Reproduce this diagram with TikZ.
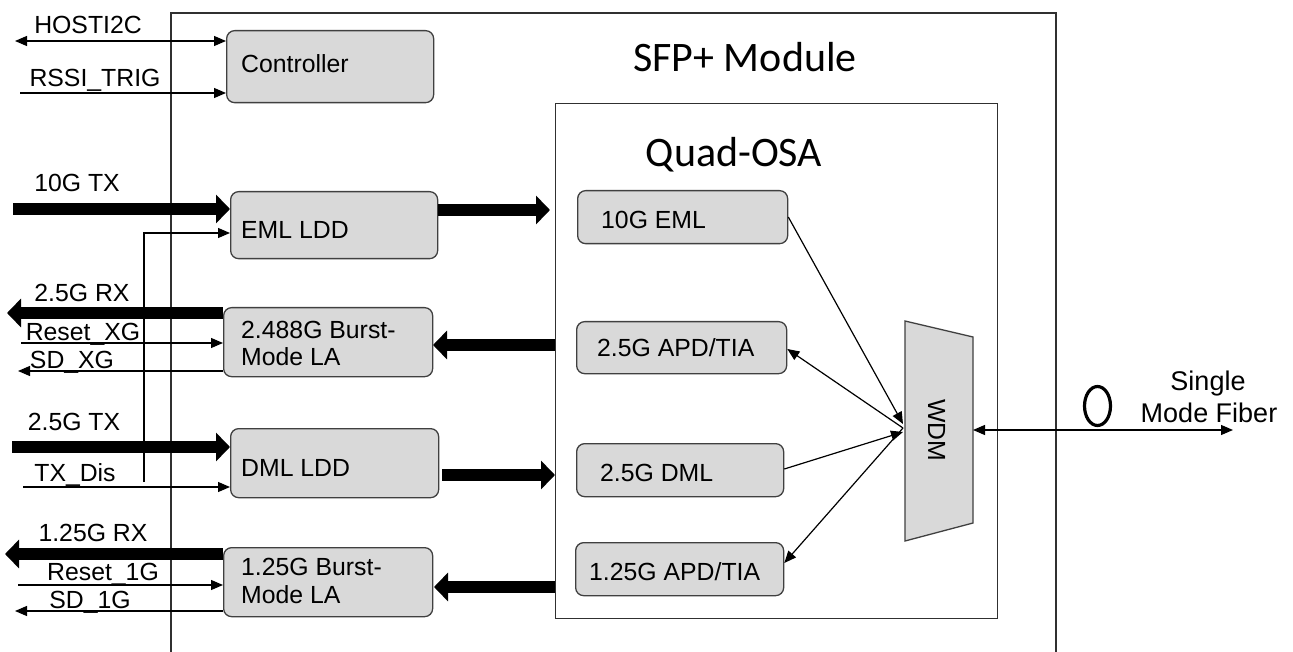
\documentclass[tikz,border=0pt]{standalone}
\usepackage{fontspec}
\setmainfont{Liberation Sans}
\newfontfamily\titlefont{Carlito}
\usetikzlibrary{arrows.meta}
\definecolor{boxfill}{HTML}{D9D9D9}
\definecolor{boxline}{HTML}{404040}
\definecolor{frame}{HTML}{303030}
\begin{document}
\begin{tikzpicture}[x=1pt,y=-1pt,
  box/.style={draw=boxline, fill=boxfill, rounded corners=8pt, line width=1.3pt, anchor=north west, inner sep=0pt},
  lbl/.style={font=\fontsize{24.8}{29}\selectfont, inner sep=0pt, text height=17.7pt, text depth=0pt},
  ttl/.style={font=\titlefont\fontsize{42}{50}\selectfont, inner sep=0pt, text height=27pt, text depth=0pt},
  fib/.style={font=\fontsize{27}{31}\selectfont, inner sep=0pt, text height=19.3pt, text depth=0pt},
  sig/.style={line width=1.2pt, -{Triangle[length=12pt,width=10pt]}},
  sigboth/.style={line width=1.2pt, {Triangle[length=12pt,width=10pt]}-{Triangle[length=12pt,width=10pt]}},
  bus/.style={line width=12pt, -{Triangle[length=14pt,width=28pt]}},
]
\useasboundingbox (0,0) rectangle (1293,652);
\fill[white] (0,0) rectangle (1293,652);

% SFP+ module outline
\draw[frame, line width=1.3pt] (171,652) -- (171,13) -- (1056,13) -- (1056,652);
\node[ttl] (sfpt) at (745,58) {SFP+ Module};

% Quad-OSA
\node[draw=frame, line width=1.3pt, minimum width=442pt, minimum height=515pt, anchor=north west, inner sep=0pt] (osa) at (555,103) {};
\node[ttl] (osat) at (734,153) {Quad-OSA};

% left blocks
\node[box, minimum width=207pt, minimum height=72pt] (ctrl) at (226,30) {};
\node[lbl, anchor=west] (ctrlt) at (241,64) {Controller};
\node[box, minimum width=207pt, minimum height=67pt] (eml) at (230,191) {};
\node[lbl, anchor=west] (emlt) at (241,230) {EML LDD};
\node[box, minimum width=209pt, minimum height=69pt] (la1) at (223,307) {};
\node[lbl, anchor=west] (la1a) at (241,330) {2.488G Burst-};
\node[lbl, anchor=west] (la1b) at (241,357) {Mode LA};
\node[box, minimum width=208pt, minimum height=69pt] (dml) at (230,428) {};
\node[lbl, anchor=west] (dmlt) at (241,468) {DML LDD};
\node[box, minimum width=209pt, minimum height=69pt] (la2) at (223,547) {};
\node[lbl, anchor=west] (la2a) at (241,567) {1.25G Burst-};
\node[lbl, anchor=west] (la2b) at (241,595) {Mode LA};

% OSA blocks
\node[box, minimum width=210pt, minimum height=53pt] (e10) at (577,190) {};
\node[lbl, anchor=west] (e10t) at (601,220) {10G EML};
\node[box, minimum width=210pt, minimum height=52pt] (apd1) at (576,321) {};
\node[lbl, anchor=west] (apd1t) at (597,348) {2.5G APD/TIA};
\node[box, minimum width=207pt, minimum height=53pt] (d25) at (576,443) {};
\node[lbl, anchor=west] (d25t) at (600,473) {2.5G DML};
\node[box, minimum width=208pt, minimum height=53pt] (apd2) at (575,542) {};
\node[lbl, anchor=west] (apd2t) at (589,572) {1.25G APD/TIA};

% WDM
\draw[draw=boxline, fill=boxfill, line width=1.3pt] (905,321) -- (973,337) -- (973,523) -- (905,541) -- cycle;
\node[lbl, rotate=-90] (wdm) at (937,430) {WDM};
\coordinate (conv) at (903,428);
\coordinate (wdmR) at (973,430);

% left signals
\node[lbl] (l1) at (88,25) {HOSTI2C};
\coordinate (hostL) at (15,41);
\draw[sigboth] (hostL) -- (hostL -| ctrl.west);
\node[lbl] (l2) at (95,78) {RSSI\_TRIG};
\coordinate (rssiL) at (20,93);
\draw[sig] (rssiL) -- (rssiL -| ctrl.west);

\node[lbl] (l3) at (77,183) {10G TX};
\coordinate (tx10L) at (13,209);
\draw[bus] (tx10L) -- (tx10L -| eml.west);
\coordinate (txv) at (144,482);
\coordinate (txvy) at (144,233);
\draw[sig] (txv) -- (txvy) -- (txvy -| eml.west);

\node[lbl] (l4) at (82,293) {2.5G RX};
\coordinate (rx25L) at (7,313);
\draw[bus] (rx25L -| la1.west) -- (rx25L);
\node[lbl] (l5) at (83,332) {Reset\_XG};
\coordinate (rstxL) at (21,343);
\draw[sig] (rstxL) -- (rstxL -| la1.west);
\node[lbl] (l6) at (72,360) {SD\_XG};
\coordinate (sdxL) at (18,371);
\draw[sig] (sdxL -| la1.west) -- (sdxL);

\node[lbl] (l7) at (74,422) {2.5G TX};
\coordinate (tx25L) at (12,447);
\draw[bus] (tx25L) -- (tx25L -| dml.west);
\node[lbl] (l8) at (75,473) {TX\_Dis};
\coordinate (txdL) at (23,487);
\draw[sig] (txdL) -- (txdL -| dml.west);

\node[lbl] (l9) at (93,533) {1.25G RX};
\coordinate (rx1L) at (5,554);
\draw[bus] (rx1L -| la2.west) -- (rx1L);
\node[lbl] (l10) at (103,572) {Reset\_1G};
\coordinate (rst1L) at (18,585);
\draw[sig] (rst1L) -- (rst1L -| la2.west);
\node[lbl] (l11) at (90,600) {SD\_1G};
\coordinate (sd1L) at (15,611);
\draw[sig] (sd1L -| la2.west) -- (sd1L);

% middle buses
\coordinate (m1) at (550,210);
\draw[bus] (m1 -| eml.east) -- (m1);
\coordinate (m2) at (433,345);
\draw[bus] (m2 -| osa.west) -- (m2);
\coordinate (m3) at (442,475);
\draw[bus] (m3) -- (m3 -| osa.west);
\coordinate (m4) at (434,587);
\draw[bus] (m4 -| osa.west) -- (m4);

% OSA internal connections
\coordinate (c1) at (903,424);
\coordinate (c2) at (903,432);
\draw[sig] (e10.east |- 0,217) -- (c1);
\draw[sig] (conv) -- (apd1.east |- 0,349);
\draw[sig] (d25.east |- 0,469) -- (c2);
\draw[sig] (conv) -- (apd2.east |- 0,563);

% fiber
\coordinate (fibR) at (1233,430);
\draw[sigboth] (wdmR) -- (fibR);
\draw[line width=3.2pt] (1097.5,406) ellipse [x radius=13, y radius=19.5];
\node[fib] (f1) at (1208,381) {Single};
\node[fib] (f2) at (1209,413) {Mode Fiber};
\end{tikzpicture}
\end{document}
